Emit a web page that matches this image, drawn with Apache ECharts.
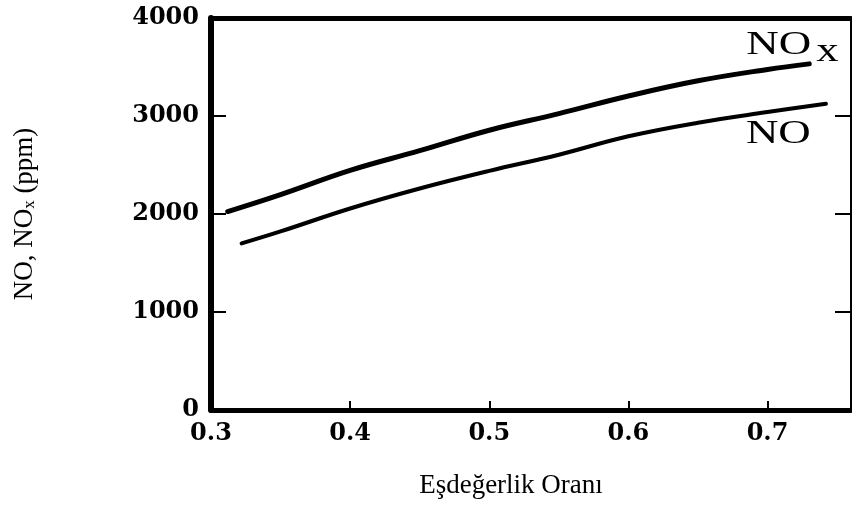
<!DOCTYPE html>
<html><head><meta charset="utf-8">
<script src="https://cdn.jsdelivr.net/npm/echarts@6/dist/echarts.min.js"></script>
<style>html,body{margin:0;padding:0;background:#fff}#c{width:852px;height:511px}</style>
</head><body><div id="c"></div>
<script>
// Equivalence ratio (x) values and concentrations (ppm)
const noxX = [0.312, 0.35, 0.40, 0.45, 0.50, 0.55, 0.60, 0.65, 0.70, 0.730];
const noxY = [2025, 2198, 2445, 2646, 2855, 3024, 3204, 3359, 3475, 3532];
const noX  = [0.322, 0.35, 0.40, 0.45, 0.50, 0.55, 0.60, 0.65, 0.70, 0.742];
const noY  = [1700, 1822, 2056, 2260, 2440, 2605, 2793, 2931, 3040, 3125];
const xTitle = 'Eşdeğerlik Oranı';
const seriesNames = ['NOx', 'NO'];

const chart = echarts.init(document.getElementById('c'), null, {renderer: 'canvas'});
const tickFont = {fontFamily: 'DejaVu Serif', fontWeight: 'bold', fontSize: 24, color: '#000'};
const zip = (a, b) => a.map((v, i) => [v, b[i]]);

chart.setOption({
  animation: false,
  backgroundColor: '#fff',
  grid: {left: 211, right: 1, top: 18, bottom: 101, containLabel: false, outerBoundsMode: 'none'},
  xAxis: [{
    type: 'value', min: 0.3, max: 0.76, interval: 0.1, position: 'bottom',
    axisLine: {show: true, onZero: false, lineStyle: {color: '#000', width: 5}},
    axisTick: {show: true, inside: true, length: 9, lineStyle: {color: '#000', width: 2}},
    axisLabel: Object.assign({margin: 12, showMaxLabel: false, formatter: v => v.toFixed(1)}, tickFont),
    splitLine: {show: false},
    name: xTitle, nameLocation: 'middle', nameGap: 62,
    nameTextStyle: {fontFamily: 'Liberation Serif', fontSize: 27, color: '#000', padding: [0, 40, 0, 0]}
  }, {
    type: 'value', min: 0.3, max: 0.76, position: 'top',
    axisLine: {show: true, onZero: false, lineStyle: {color: '#000', width: 5}},
    axisTick: {show: false}, axisLabel: {show: false}, splitLine: {show: false}
  }],
  yAxis: [{
    type: 'value', min: 0, max: 4000, interval: 1000, position: 'left',
    axisLine: {show: true, onZero: false, lineStyle: {color: '#000', width: 6}},
    axisTick: {show: true, inside: true, length: 15, lineStyle: {color: '#000', width: 2}},
    axisLabel: Object.assign({margin: 12, formatter: v => String(v)}, tickFont),
    splitLine: {show: false},
    name: 'NO, NO{s|x} (ppm)', nameLocation: 'middle', nameGap: 173,
    nameTextStyle: {fontFamily: 'Liberation Serif', fontSize: 27, color: '#000',
      rich: {s: {fontFamily: 'Liberation Serif', fontSize: 17, color: '#000', verticalAlign: 'bottom', padding: [10, 0, 0, 0]}}}
  }, {
    type: 'value', min: 0, max: 4000, interval: 1000, position: 'right',
    axisLine: {show: true, onZero: false, lineStyle: {color: '#000', width: 2}},
    axisTick: {show: true, inside: true, length: 16, lineStyle: {color: '#000', width: 2}},
    axisLabel: {show: false}, splitLine: {show: false}
  }],
  series: [{
    name: seriesNames[0], type: 'line', xAxisIndex: 0, yAxisIndex: 0,
    data: zip(noxX, noxY), smooth: 0.4, showSymbol: false,
    lineStyle: {color: '#000', width: 5, cap: 'round'}
  }, {
    name: seriesNames[1], type: 'line', xAxisIndex: 0, yAxisIndex: 0,
    data: zip(noX, noY), smooth: 0.4, showSymbol: false,
    lineStyle: {color: '#000', width: 4, cap: 'round'}
  }]
});

const noxEnd = chart.convertToPixel({xAxisIndex: 0, yAxisIndex: 0}, [noxX[noxX.length - 1], noxY[noxY.length - 1]]);
const noEnd = chart.convertToPixel({xAxisIndex: 0, yAxisIndex: 0}, [noX[noX.length - 1], noY[noY.length - 1]]);
const lblStyle = {fontFamily: 'Liberation Serif', fontSize: 33, fill: '#000', verticalAlign: 'middle', align: 'left'};
chart.setOption({
  graphic: [
    {type: 'text', x: noxEnd[0] - 63, y: noxEnd[1] - 19, scaleX: 1.36, style: Object.assign({text: 'NO'}, lblStyle)},
    {type: 'text', x: noxEnd[0] + 7, y: noxEnd[1] - 12, scaleX: 1.36, style: Object.assign({text: 'x'}, lblStyle)},
    {type: 'text', x: noEnd[0] - 80, y: noEnd[1] + 31, scaleX: 1.36, style: Object.assign({text: 'NO'}, lblStyle)}
  ]
});
</script></body></html>
